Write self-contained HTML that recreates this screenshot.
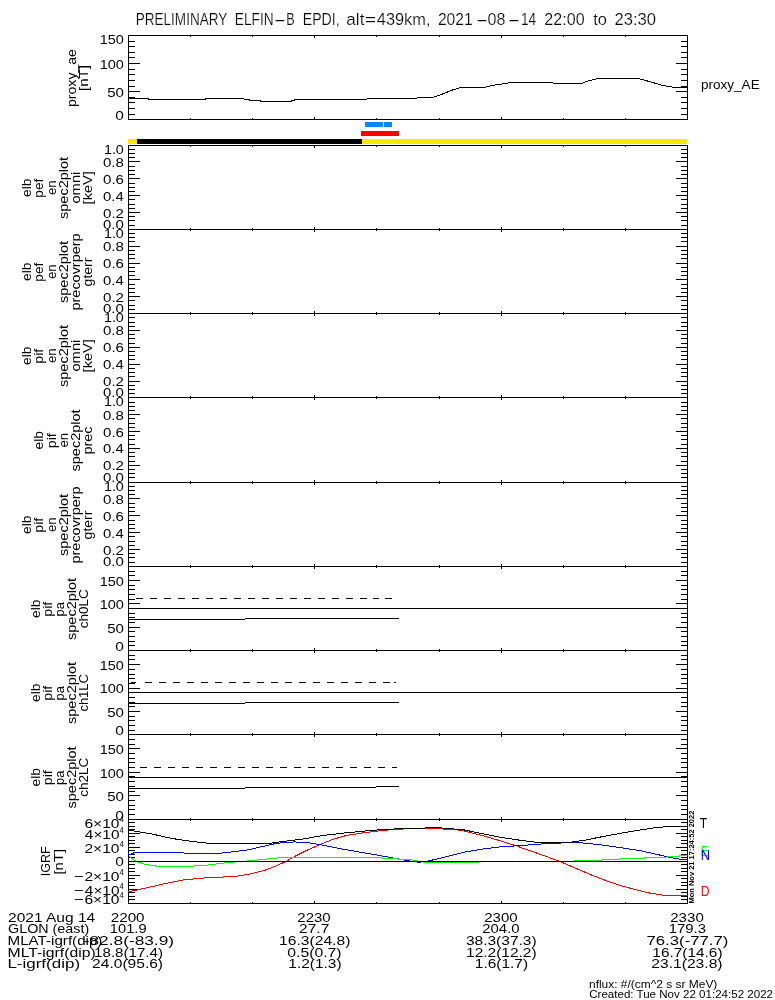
<!DOCTYPE html>
<html lang="en"><head><meta charset="utf-8"><title>ELFIN-B EPDI summary plot</title>
<style>
html,body{margin:0;padding:0;background:#fff;}
svg{display:block;}
text{white-space:pre;}
</style></head>
<body>
<svg width="775" height="1000" viewBox="0 0 775 1000">
<rect width="775" height="1000" fill="#fff"/>
<g id="axes" shape-rendering="crispEdges">
<rect x="128" y="35" width="560" height="1" fill="#000"/>
<rect x="128" y="119" width="560" height="1" fill="#000"/>
<rect x="128" y="35" width="1" height="85" fill="#000"/>
<rect x="687" y="35" width="1" height="85" fill="#000"/>
<rect x="128" y="119" width="12" height="1" fill="#000"/>
<rect x="676" y="119" width="12" height="1" fill="#000"/>
<rect x="128" y="114" width="7" height="1" fill="#000"/>
<rect x="681" y="114" width="7" height="1" fill="#000"/>
<rect x="128" y="108" width="7" height="1" fill="#000"/>
<rect x="681" y="108" width="7" height="1" fill="#000"/>
<rect x="128" y="102" width="7" height="1" fill="#000"/>
<rect x="681" y="102" width="7" height="1" fill="#000"/>
<rect x="128" y="97" width="7" height="1" fill="#000"/>
<rect x="681" y="97" width="7" height="1" fill="#000"/>
<rect x="128" y="91" width="12" height="1" fill="#000"/>
<rect x="676" y="91" width="12" height="1" fill="#000"/>
<rect x="128" y="86" width="7" height="1" fill="#000"/>
<rect x="681" y="86" width="7" height="1" fill="#000"/>
<rect x="128" y="80" width="7" height="1" fill="#000"/>
<rect x="681" y="80" width="7" height="1" fill="#000"/>
<rect x="128" y="74" width="7" height="1" fill="#000"/>
<rect x="681" y="74" width="7" height="1" fill="#000"/>
<rect x="128" y="69" width="7" height="1" fill="#000"/>
<rect x="681" y="69" width="7" height="1" fill="#000"/>
<rect x="128" y="63" width="12" height="1" fill="#000"/>
<rect x="676" y="63" width="12" height="1" fill="#000"/>
<rect x="128" y="57" width="7" height="1" fill="#000"/>
<rect x="681" y="57" width="7" height="1" fill="#000"/>
<rect x="128" y="52" width="7" height="1" fill="#000"/>
<rect x="681" y="52" width="7" height="1" fill="#000"/>
<rect x="128" y="46" width="7" height="1" fill="#000"/>
<rect x="681" y="46" width="7" height="1" fill="#000"/>
<rect x="128" y="41" width="7" height="1" fill="#000"/>
<rect x="681" y="41" width="7" height="1" fill="#000"/>
<rect x="128" y="35" width="12" height="1" fill="#000"/>
<rect x="676" y="35" width="12" height="1" fill="#000"/>
<rect x="190" y="35" width="1" height="2" fill="#000"/>
<rect x="252" y="35" width="1" height="2" fill="#000"/>
<rect x="314" y="35" width="1" height="3" fill="#000"/>
<rect x="376" y="35" width="1" height="2" fill="#000"/>
<rect x="439" y="35" width="1" height="2" fill="#000"/>
<rect x="501" y="35" width="1" height="3" fill="#000"/>
<rect x="563" y="35" width="1" height="2" fill="#000"/>
<rect x="625" y="35" width="1" height="2" fill="#000"/>
<rect x="190" y="118" width="1" height="2" fill="#000"/>
<rect x="252" y="118" width="1" height="2" fill="#000"/>
<rect x="314" y="117" width="1" height="3" fill="#000"/>
<rect x="376" y="118" width="1" height="2" fill="#000"/>
<rect x="439" y="118" width="1" height="2" fill="#000"/>
<rect x="501" y="117" width="1" height="3" fill="#000"/>
<rect x="563" y="118" width="1" height="2" fill="#000"/>
<rect x="625" y="118" width="1" height="2" fill="#000"/>
<rect x="128" y="145" width="560" height="1" fill="#000"/>
<rect x="128" y="229" width="560" height="1" fill="#000"/>
<rect x="128" y="145" width="1" height="85" fill="#000"/>
<rect x="687" y="145" width="1" height="85" fill="#000"/>
<rect x="128" y="229" width="12" height="1" fill="#000"/>
<rect x="676" y="229" width="12" height="1" fill="#000"/>
<rect x="128" y="225" width="7" height="1" fill="#000"/>
<rect x="681" y="225" width="7" height="1" fill="#000"/>
<rect x="128" y="220" width="7" height="1" fill="#000"/>
<rect x="681" y="220" width="7" height="1" fill="#000"/>
<rect x="128" y="216" width="7" height="1" fill="#000"/>
<rect x="681" y="216" width="7" height="1" fill="#000"/>
<rect x="128" y="212" width="12" height="1" fill="#000"/>
<rect x="676" y="212" width="12" height="1" fill="#000"/>
<rect x="128" y="208" width="7" height="1" fill="#000"/>
<rect x="681" y="208" width="7" height="1" fill="#000"/>
<rect x="128" y="204" width="7" height="1" fill="#000"/>
<rect x="681" y="204" width="7" height="1" fill="#000"/>
<rect x="128" y="199" width="7" height="1" fill="#000"/>
<rect x="681" y="199" width="7" height="1" fill="#000"/>
<rect x="128" y="195" width="12" height="1" fill="#000"/>
<rect x="676" y="195" width="12" height="1" fill="#000"/>
<rect x="128" y="191" width="7" height="1" fill="#000"/>
<rect x="681" y="191" width="7" height="1" fill="#000"/>
<rect x="128" y="187" width="7" height="1" fill="#000"/>
<rect x="681" y="187" width="7" height="1" fill="#000"/>
<rect x="128" y="183" width="7" height="1" fill="#000"/>
<rect x="681" y="183" width="7" height="1" fill="#000"/>
<rect x="128" y="178" width="12" height="1" fill="#000"/>
<rect x="676" y="178" width="12" height="1" fill="#000"/>
<rect x="128" y="174" width="7" height="1" fill="#000"/>
<rect x="681" y="174" width="7" height="1" fill="#000"/>
<rect x="128" y="170" width="7" height="1" fill="#000"/>
<rect x="681" y="170" width="7" height="1" fill="#000"/>
<rect x="128" y="166" width="7" height="1" fill="#000"/>
<rect x="681" y="166" width="7" height="1" fill="#000"/>
<rect x="128" y="161" width="12" height="1" fill="#000"/>
<rect x="676" y="161" width="12" height="1" fill="#000"/>
<rect x="128" y="157" width="7" height="1" fill="#000"/>
<rect x="681" y="157" width="7" height="1" fill="#000"/>
<rect x="128" y="153" width="7" height="1" fill="#000"/>
<rect x="681" y="153" width="7" height="1" fill="#000"/>
<rect x="128" y="149" width="7" height="1" fill="#000"/>
<rect x="681" y="149" width="7" height="1" fill="#000"/>
<rect x="128" y="145" width="12" height="1" fill="#000"/>
<rect x="676" y="145" width="12" height="1" fill="#000"/>
<rect x="190" y="145" width="1" height="2" fill="#000"/>
<rect x="252" y="145" width="1" height="2" fill="#000"/>
<rect x="314" y="145" width="1" height="3" fill="#000"/>
<rect x="376" y="145" width="1" height="2" fill="#000"/>
<rect x="439" y="145" width="1" height="2" fill="#000"/>
<rect x="501" y="145" width="1" height="3" fill="#000"/>
<rect x="563" y="145" width="1" height="2" fill="#000"/>
<rect x="625" y="145" width="1" height="2" fill="#000"/>
<rect x="190" y="228" width="1" height="3" fill="#000"/>
<rect x="252" y="228" width="1" height="3" fill="#000"/>
<rect x="314" y="227" width="1" height="5" fill="#000"/>
<rect x="376" y="228" width="1" height="3" fill="#000"/>
<rect x="439" y="228" width="1" height="3" fill="#000"/>
<rect x="501" y="227" width="1" height="5" fill="#000"/>
<rect x="563" y="228" width="1" height="3" fill="#000"/>
<rect x="625" y="228" width="1" height="3" fill="#000"/>
<rect x="128" y="313" width="560" height="1" fill="#000"/>
<rect x="128" y="229" width="1" height="85" fill="#000"/>
<rect x="687" y="229" width="1" height="85" fill="#000"/>
<rect x="128" y="313" width="12" height="1" fill="#000"/>
<rect x="676" y="313" width="12" height="1" fill="#000"/>
<rect x="128" y="309" width="7" height="1" fill="#000"/>
<rect x="681" y="309" width="7" height="1" fill="#000"/>
<rect x="128" y="305" width="7" height="1" fill="#000"/>
<rect x="681" y="305" width="7" height="1" fill="#000"/>
<rect x="128" y="300" width="7" height="1" fill="#000"/>
<rect x="681" y="300" width="7" height="1" fill="#000"/>
<rect x="128" y="296" width="12" height="1" fill="#000"/>
<rect x="676" y="296" width="12" height="1" fill="#000"/>
<rect x="128" y="292" width="7" height="1" fill="#000"/>
<rect x="681" y="292" width="7" height="1" fill="#000"/>
<rect x="128" y="288" width="7" height="1" fill="#000"/>
<rect x="681" y="288" width="7" height="1" fill="#000"/>
<rect x="128" y="284" width="7" height="1" fill="#000"/>
<rect x="681" y="284" width="7" height="1" fill="#000"/>
<rect x="128" y="279" width="12" height="1" fill="#000"/>
<rect x="676" y="279" width="12" height="1" fill="#000"/>
<rect x="128" y="275" width="7" height="1" fill="#000"/>
<rect x="681" y="275" width="7" height="1" fill="#000"/>
<rect x="128" y="271" width="7" height="1" fill="#000"/>
<rect x="681" y="271" width="7" height="1" fill="#000"/>
<rect x="128" y="267" width="7" height="1" fill="#000"/>
<rect x="681" y="267" width="7" height="1" fill="#000"/>
<rect x="128" y="263" width="12" height="1" fill="#000"/>
<rect x="676" y="263" width="12" height="1" fill="#000"/>
<rect x="128" y="258" width="7" height="1" fill="#000"/>
<rect x="681" y="258" width="7" height="1" fill="#000"/>
<rect x="128" y="254" width="7" height="1" fill="#000"/>
<rect x="681" y="254" width="7" height="1" fill="#000"/>
<rect x="128" y="250" width="7" height="1" fill="#000"/>
<rect x="681" y="250" width="7" height="1" fill="#000"/>
<rect x="128" y="246" width="12" height="1" fill="#000"/>
<rect x="676" y="246" width="12" height="1" fill="#000"/>
<rect x="128" y="241" width="7" height="1" fill="#000"/>
<rect x="681" y="241" width="7" height="1" fill="#000"/>
<rect x="128" y="237" width="7" height="1" fill="#000"/>
<rect x="681" y="237" width="7" height="1" fill="#000"/>
<rect x="128" y="233" width="7" height="1" fill="#000"/>
<rect x="681" y="233" width="7" height="1" fill="#000"/>
<rect x="128" y="229" width="12" height="1" fill="#000"/>
<rect x="676" y="229" width="12" height="1" fill="#000"/>
<rect x="190" y="312" width="1" height="3" fill="#000"/>
<rect x="252" y="312" width="1" height="3" fill="#000"/>
<rect x="314" y="311" width="1" height="5" fill="#000"/>
<rect x="376" y="312" width="1" height="3" fill="#000"/>
<rect x="439" y="312" width="1" height="3" fill="#000"/>
<rect x="501" y="311" width="1" height="5" fill="#000"/>
<rect x="563" y="312" width="1" height="3" fill="#000"/>
<rect x="625" y="312" width="1" height="3" fill="#000"/>
<rect x="128" y="397" width="560" height="1" fill="#000"/>
<rect x="128" y="313" width="1" height="85" fill="#000"/>
<rect x="687" y="313" width="1" height="85" fill="#000"/>
<rect x="128" y="397" width="12" height="1" fill="#000"/>
<rect x="676" y="397" width="12" height="1" fill="#000"/>
<rect x="128" y="393" width="7" height="1" fill="#000"/>
<rect x="681" y="393" width="7" height="1" fill="#000"/>
<rect x="128" y="389" width="7" height="1" fill="#000"/>
<rect x="681" y="389" width="7" height="1" fill="#000"/>
<rect x="128" y="385" width="7" height="1" fill="#000"/>
<rect x="681" y="385" width="7" height="1" fill="#000"/>
<rect x="128" y="381" width="12" height="1" fill="#000"/>
<rect x="676" y="381" width="12" height="1" fill="#000"/>
<rect x="128" y="376" width="7" height="1" fill="#000"/>
<rect x="681" y="376" width="7" height="1" fill="#000"/>
<rect x="128" y="372" width="7" height="1" fill="#000"/>
<rect x="681" y="372" width="7" height="1" fill="#000"/>
<rect x="128" y="368" width="7" height="1" fill="#000"/>
<rect x="681" y="368" width="7" height="1" fill="#000"/>
<rect x="128" y="364" width="12" height="1" fill="#000"/>
<rect x="676" y="364" width="12" height="1" fill="#000"/>
<rect x="128" y="359" width="7" height="1" fill="#000"/>
<rect x="681" y="359" width="7" height="1" fill="#000"/>
<rect x="128" y="355" width="7" height="1" fill="#000"/>
<rect x="681" y="355" width="7" height="1" fill="#000"/>
<rect x="128" y="351" width="7" height="1" fill="#000"/>
<rect x="681" y="351" width="7" height="1" fill="#000"/>
<rect x="128" y="347" width="12" height="1" fill="#000"/>
<rect x="676" y="347" width="12" height="1" fill="#000"/>
<rect x="128" y="343" width="7" height="1" fill="#000"/>
<rect x="681" y="343" width="7" height="1" fill="#000"/>
<rect x="128" y="338" width="7" height="1" fill="#000"/>
<rect x="681" y="338" width="7" height="1" fill="#000"/>
<rect x="128" y="334" width="7" height="1" fill="#000"/>
<rect x="681" y="334" width="7" height="1" fill="#000"/>
<rect x="128" y="330" width="12" height="1" fill="#000"/>
<rect x="676" y="330" width="12" height="1" fill="#000"/>
<rect x="128" y="326" width="7" height="1" fill="#000"/>
<rect x="681" y="326" width="7" height="1" fill="#000"/>
<rect x="128" y="322" width="7" height="1" fill="#000"/>
<rect x="681" y="322" width="7" height="1" fill="#000"/>
<rect x="128" y="317" width="7" height="1" fill="#000"/>
<rect x="681" y="317" width="7" height="1" fill="#000"/>
<rect x="128" y="313" width="12" height="1" fill="#000"/>
<rect x="676" y="313" width="12" height="1" fill="#000"/>
<rect x="190" y="396" width="1" height="3" fill="#000"/>
<rect x="252" y="396" width="1" height="3" fill="#000"/>
<rect x="314" y="395" width="1" height="5" fill="#000"/>
<rect x="376" y="396" width="1" height="3" fill="#000"/>
<rect x="439" y="396" width="1" height="3" fill="#000"/>
<rect x="501" y="395" width="1" height="5" fill="#000"/>
<rect x="563" y="396" width="1" height="3" fill="#000"/>
<rect x="625" y="396" width="1" height="3" fill="#000"/>
<rect x="128" y="482" width="560" height="1" fill="#000"/>
<rect x="128" y="397" width="1" height="86" fill="#000"/>
<rect x="687" y="397" width="1" height="86" fill="#000"/>
<rect x="128" y="482" width="12" height="1" fill="#000"/>
<rect x="676" y="482" width="12" height="1" fill="#000"/>
<rect x="128" y="477" width="7" height="1" fill="#000"/>
<rect x="681" y="477" width="7" height="1" fill="#000"/>
<rect x="128" y="473" width="7" height="1" fill="#000"/>
<rect x="681" y="473" width="7" height="1" fill="#000"/>
<rect x="128" y="469" width="7" height="1" fill="#000"/>
<rect x="681" y="469" width="7" height="1" fill="#000"/>
<rect x="128" y="465" width="12" height="1" fill="#000"/>
<rect x="676" y="465" width="12" height="1" fill="#000"/>
<rect x="128" y="461" width="7" height="1" fill="#000"/>
<rect x="681" y="461" width="7" height="1" fill="#000"/>
<rect x="128" y="456" width="7" height="1" fill="#000"/>
<rect x="681" y="456" width="7" height="1" fill="#000"/>
<rect x="128" y="452" width="7" height="1" fill="#000"/>
<rect x="681" y="452" width="7" height="1" fill="#000"/>
<rect x="128" y="448" width="12" height="1" fill="#000"/>
<rect x="676" y="448" width="12" height="1" fill="#000"/>
<rect x="128" y="444" width="7" height="1" fill="#000"/>
<rect x="681" y="444" width="7" height="1" fill="#000"/>
<rect x="128" y="439" width="7" height="1" fill="#000"/>
<rect x="681" y="439" width="7" height="1" fill="#000"/>
<rect x="128" y="435" width="7" height="1" fill="#000"/>
<rect x="681" y="435" width="7" height="1" fill="#000"/>
<rect x="128" y="431" width="12" height="1" fill="#000"/>
<rect x="676" y="431" width="12" height="1" fill="#000"/>
<rect x="128" y="427" width="7" height="1" fill="#000"/>
<rect x="681" y="427" width="7" height="1" fill="#000"/>
<rect x="128" y="423" width="7" height="1" fill="#000"/>
<rect x="681" y="423" width="7" height="1" fill="#000"/>
<rect x="128" y="418" width="7" height="1" fill="#000"/>
<rect x="681" y="418" width="7" height="1" fill="#000"/>
<rect x="128" y="414" width="12" height="1" fill="#000"/>
<rect x="676" y="414" width="12" height="1" fill="#000"/>
<rect x="128" y="410" width="7" height="1" fill="#000"/>
<rect x="681" y="410" width="7" height="1" fill="#000"/>
<rect x="128" y="406" width="7" height="1" fill="#000"/>
<rect x="681" y="406" width="7" height="1" fill="#000"/>
<rect x="128" y="402" width="7" height="1" fill="#000"/>
<rect x="681" y="402" width="7" height="1" fill="#000"/>
<rect x="128" y="397" width="12" height="1" fill="#000"/>
<rect x="676" y="397" width="12" height="1" fill="#000"/>
<rect x="190" y="481" width="1" height="3" fill="#000"/>
<rect x="252" y="481" width="1" height="3" fill="#000"/>
<rect x="314" y="480" width="1" height="5" fill="#000"/>
<rect x="376" y="481" width="1" height="3" fill="#000"/>
<rect x="439" y="481" width="1" height="3" fill="#000"/>
<rect x="501" y="480" width="1" height="5" fill="#000"/>
<rect x="563" y="481" width="1" height="3" fill="#000"/>
<rect x="625" y="481" width="1" height="3" fill="#000"/>
<rect x="128" y="566" width="560" height="1" fill="#000"/>
<rect x="128" y="482" width="1" height="85" fill="#000"/>
<rect x="687" y="482" width="1" height="85" fill="#000"/>
<rect x="128" y="566" width="12" height="1" fill="#000"/>
<rect x="676" y="566" width="12" height="1" fill="#000"/>
<rect x="128" y="562" width="7" height="1" fill="#000"/>
<rect x="681" y="562" width="7" height="1" fill="#000"/>
<rect x="128" y="557" width="7" height="1" fill="#000"/>
<rect x="681" y="557" width="7" height="1" fill="#000"/>
<rect x="128" y="553" width="7" height="1" fill="#000"/>
<rect x="681" y="553" width="7" height="1" fill="#000"/>
<rect x="128" y="549" width="12" height="1" fill="#000"/>
<rect x="676" y="549" width="12" height="1" fill="#000"/>
<rect x="128" y="545" width="7" height="1" fill="#000"/>
<rect x="681" y="545" width="7" height="1" fill="#000"/>
<rect x="128" y="541" width="7" height="1" fill="#000"/>
<rect x="681" y="541" width="7" height="1" fill="#000"/>
<rect x="128" y="536" width="7" height="1" fill="#000"/>
<rect x="681" y="536" width="7" height="1" fill="#000"/>
<rect x="128" y="532" width="12" height="1" fill="#000"/>
<rect x="676" y="532" width="12" height="1" fill="#000"/>
<rect x="128" y="528" width="7" height="1" fill="#000"/>
<rect x="681" y="528" width="7" height="1" fill="#000"/>
<rect x="128" y="524" width="7" height="1" fill="#000"/>
<rect x="681" y="524" width="7" height="1" fill="#000"/>
<rect x="128" y="520" width="7" height="1" fill="#000"/>
<rect x="681" y="520" width="7" height="1" fill="#000"/>
<rect x="128" y="515" width="12" height="1" fill="#000"/>
<rect x="676" y="515" width="12" height="1" fill="#000"/>
<rect x="128" y="511" width="7" height="1" fill="#000"/>
<rect x="681" y="511" width="7" height="1" fill="#000"/>
<rect x="128" y="507" width="7" height="1" fill="#000"/>
<rect x="681" y="507" width="7" height="1" fill="#000"/>
<rect x="128" y="503" width="7" height="1" fill="#000"/>
<rect x="681" y="503" width="7" height="1" fill="#000"/>
<rect x="128" y="498" width="12" height="1" fill="#000"/>
<rect x="676" y="498" width="12" height="1" fill="#000"/>
<rect x="128" y="494" width="7" height="1" fill="#000"/>
<rect x="681" y="494" width="7" height="1" fill="#000"/>
<rect x="128" y="490" width="7" height="1" fill="#000"/>
<rect x="681" y="490" width="7" height="1" fill="#000"/>
<rect x="128" y="486" width="7" height="1" fill="#000"/>
<rect x="681" y="486" width="7" height="1" fill="#000"/>
<rect x="128" y="482" width="12" height="1" fill="#000"/>
<rect x="676" y="482" width="12" height="1" fill="#000"/>
<rect x="190" y="565" width="1" height="3" fill="#000"/>
<rect x="252" y="565" width="1" height="3" fill="#000"/>
<rect x="314" y="564" width="1" height="5" fill="#000"/>
<rect x="376" y="565" width="1" height="3" fill="#000"/>
<rect x="439" y="565" width="1" height="3" fill="#000"/>
<rect x="501" y="564" width="1" height="5" fill="#000"/>
<rect x="563" y="565" width="1" height="3" fill="#000"/>
<rect x="625" y="565" width="1" height="3" fill="#000"/>
<rect x="128" y="650" width="560" height="1" fill="#000"/>
<rect x="128" y="566" width="1" height="85" fill="#000"/>
<rect x="687" y="566" width="1" height="85" fill="#000"/>
<rect x="128" y="650" width="12" height="1" fill="#000"/>
<rect x="676" y="650" width="12" height="1" fill="#000"/>
<rect x="128" y="645" width="7" height="1" fill="#000"/>
<rect x="681" y="645" width="7" height="1" fill="#000"/>
<rect x="128" y="641" width="7" height="1" fill="#000"/>
<rect x="681" y="641" width="7" height="1" fill="#000"/>
<rect x="128" y="636" width="7" height="1" fill="#000"/>
<rect x="681" y="636" width="7" height="1" fill="#000"/>
<rect x="128" y="631" width="7" height="1" fill="#000"/>
<rect x="681" y="631" width="7" height="1" fill="#000"/>
<rect x="128" y="627" width="12" height="1" fill="#000"/>
<rect x="676" y="627" width="12" height="1" fill="#000"/>
<rect x="128" y="622" width="7" height="1" fill="#000"/>
<rect x="681" y="622" width="7" height="1" fill="#000"/>
<rect x="128" y="617" width="7" height="1" fill="#000"/>
<rect x="681" y="617" width="7" height="1" fill="#000"/>
<rect x="128" y="613" width="7" height="1" fill="#000"/>
<rect x="681" y="613" width="7" height="1" fill="#000"/>
<rect x="128" y="608" width="7" height="1" fill="#000"/>
<rect x="681" y="608" width="7" height="1" fill="#000"/>
<rect x="128" y="603" width="12" height="1" fill="#000"/>
<rect x="676" y="603" width="12" height="1" fill="#000"/>
<rect x="128" y="599" width="7" height="1" fill="#000"/>
<rect x="681" y="599" width="7" height="1" fill="#000"/>
<rect x="128" y="594" width="7" height="1" fill="#000"/>
<rect x="681" y="594" width="7" height="1" fill="#000"/>
<rect x="128" y="589" width="7" height="1" fill="#000"/>
<rect x="681" y="589" width="7" height="1" fill="#000"/>
<rect x="128" y="585" width="7" height="1" fill="#000"/>
<rect x="681" y="585" width="7" height="1" fill="#000"/>
<rect x="128" y="580" width="12" height="1" fill="#000"/>
<rect x="676" y="580" width="12" height="1" fill="#000"/>
<rect x="128" y="575" width="7" height="1" fill="#000"/>
<rect x="681" y="575" width="7" height="1" fill="#000"/>
<rect x="128" y="571" width="7" height="1" fill="#000"/>
<rect x="681" y="571" width="7" height="1" fill="#000"/>
<rect x="128" y="566" width="7" height="1" fill="#000"/>
<rect x="681" y="566" width="7" height="1" fill="#000"/>
<rect x="190" y="649" width="1" height="3" fill="#000"/>
<rect x="252" y="649" width="1" height="3" fill="#000"/>
<rect x="314" y="648" width="1" height="5" fill="#000"/>
<rect x="376" y="649" width="1" height="3" fill="#000"/>
<rect x="439" y="649" width="1" height="3" fill="#000"/>
<rect x="501" y="648" width="1" height="5" fill="#000"/>
<rect x="563" y="649" width="1" height="3" fill="#000"/>
<rect x="625" y="649" width="1" height="3" fill="#000"/>
<rect x="128" y="734" width="560" height="1" fill="#000"/>
<rect x="128" y="650" width="1" height="85" fill="#000"/>
<rect x="687" y="650" width="1" height="85" fill="#000"/>
<rect x="128" y="734" width="12" height="1" fill="#000"/>
<rect x="676" y="734" width="12" height="1" fill="#000"/>
<rect x="128" y="730" width="7" height="1" fill="#000"/>
<rect x="681" y="730" width="7" height="1" fill="#000"/>
<rect x="128" y="725" width="7" height="1" fill="#000"/>
<rect x="681" y="725" width="7" height="1" fill="#000"/>
<rect x="128" y="720" width="7" height="1" fill="#000"/>
<rect x="681" y="720" width="7" height="1" fill="#000"/>
<rect x="128" y="716" width="7" height="1" fill="#000"/>
<rect x="681" y="716" width="7" height="1" fill="#000"/>
<rect x="128" y="711" width="12" height="1" fill="#000"/>
<rect x="676" y="711" width="12" height="1" fill="#000"/>
<rect x="128" y="706" width="7" height="1" fill="#000"/>
<rect x="681" y="706" width="7" height="1" fill="#000"/>
<rect x="128" y="702" width="7" height="1" fill="#000"/>
<rect x="681" y="702" width="7" height="1" fill="#000"/>
<rect x="128" y="697" width="7" height="1" fill="#000"/>
<rect x="681" y="697" width="7" height="1" fill="#000"/>
<rect x="128" y="692" width="7" height="1" fill="#000"/>
<rect x="681" y="692" width="7" height="1" fill="#000"/>
<rect x="128" y="688" width="12" height="1" fill="#000"/>
<rect x="676" y="688" width="12" height="1" fill="#000"/>
<rect x="128" y="683" width="7" height="1" fill="#000"/>
<rect x="681" y="683" width="7" height="1" fill="#000"/>
<rect x="128" y="678" width="7" height="1" fill="#000"/>
<rect x="681" y="678" width="7" height="1" fill="#000"/>
<rect x="128" y="674" width="7" height="1" fill="#000"/>
<rect x="681" y="674" width="7" height="1" fill="#000"/>
<rect x="128" y="669" width="7" height="1" fill="#000"/>
<rect x="681" y="669" width="7" height="1" fill="#000"/>
<rect x="128" y="664" width="12" height="1" fill="#000"/>
<rect x="676" y="664" width="12" height="1" fill="#000"/>
<rect x="128" y="659" width="7" height="1" fill="#000"/>
<rect x="681" y="659" width="7" height="1" fill="#000"/>
<rect x="128" y="655" width="7" height="1" fill="#000"/>
<rect x="681" y="655" width="7" height="1" fill="#000"/>
<rect x="128" y="650" width="7" height="1" fill="#000"/>
<rect x="681" y="650" width="7" height="1" fill="#000"/>
<rect x="190" y="733" width="1" height="3" fill="#000"/>
<rect x="252" y="733" width="1" height="3" fill="#000"/>
<rect x="314" y="732" width="1" height="5" fill="#000"/>
<rect x="376" y="733" width="1" height="3" fill="#000"/>
<rect x="439" y="733" width="1" height="3" fill="#000"/>
<rect x="501" y="732" width="1" height="5" fill="#000"/>
<rect x="563" y="733" width="1" height="3" fill="#000"/>
<rect x="625" y="733" width="1" height="3" fill="#000"/>
<rect x="128" y="819" width="560" height="1" fill="#000"/>
<rect x="128" y="734" width="1" height="86" fill="#000"/>
<rect x="687" y="734" width="1" height="86" fill="#000"/>
<rect x="128" y="819" width="12" height="1" fill="#000"/>
<rect x="676" y="819" width="12" height="1" fill="#000"/>
<rect x="128" y="814" width="7" height="1" fill="#000"/>
<rect x="681" y="814" width="7" height="1" fill="#000"/>
<rect x="128" y="809" width="7" height="1" fill="#000"/>
<rect x="681" y="809" width="7" height="1" fill="#000"/>
<rect x="128" y="805" width="7" height="1" fill="#000"/>
<rect x="681" y="805" width="7" height="1" fill="#000"/>
<rect x="128" y="800" width="7" height="1" fill="#000"/>
<rect x="681" y="800" width="7" height="1" fill="#000"/>
<rect x="128" y="795" width="12" height="1" fill="#000"/>
<rect x="676" y="795" width="12" height="1" fill="#000"/>
<rect x="128" y="791" width="7" height="1" fill="#000"/>
<rect x="681" y="791" width="7" height="1" fill="#000"/>
<rect x="128" y="786" width="7" height="1" fill="#000"/>
<rect x="681" y="786" width="7" height="1" fill="#000"/>
<rect x="128" y="781" width="7" height="1" fill="#000"/>
<rect x="681" y="781" width="7" height="1" fill="#000"/>
<rect x="128" y="776" width="7" height="1" fill="#000"/>
<rect x="681" y="776" width="7" height="1" fill="#000"/>
<rect x="128" y="772" width="12" height="1" fill="#000"/>
<rect x="676" y="772" width="12" height="1" fill="#000"/>
<rect x="128" y="767" width="7" height="1" fill="#000"/>
<rect x="681" y="767" width="7" height="1" fill="#000"/>
<rect x="128" y="762" width="7" height="1" fill="#000"/>
<rect x="681" y="762" width="7" height="1" fill="#000"/>
<rect x="128" y="758" width="7" height="1" fill="#000"/>
<rect x="681" y="758" width="7" height="1" fill="#000"/>
<rect x="128" y="753" width="7" height="1" fill="#000"/>
<rect x="681" y="753" width="7" height="1" fill="#000"/>
<rect x="128" y="748" width="12" height="1" fill="#000"/>
<rect x="676" y="748" width="12" height="1" fill="#000"/>
<rect x="128" y="744" width="7" height="1" fill="#000"/>
<rect x="681" y="744" width="7" height="1" fill="#000"/>
<rect x="128" y="739" width="7" height="1" fill="#000"/>
<rect x="681" y="739" width="7" height="1" fill="#000"/>
<rect x="128" y="734" width="7" height="1" fill="#000"/>
<rect x="681" y="734" width="7" height="1" fill="#000"/>
<rect x="190" y="818" width="1" height="3" fill="#000"/>
<rect x="252" y="818" width="1" height="3" fill="#000"/>
<rect x="314" y="817" width="1" height="5" fill="#000"/>
<rect x="376" y="818" width="1" height="3" fill="#000"/>
<rect x="439" y="818" width="1" height="3" fill="#000"/>
<rect x="501" y="817" width="1" height="5" fill="#000"/>
<rect x="563" y="818" width="1" height="3" fill="#000"/>
<rect x="625" y="818" width="1" height="3" fill="#000"/>
<rect x="128" y="903" width="560" height="1" fill="#000"/>
<rect x="128" y="819" width="1" height="85" fill="#000"/>
<rect x="687" y="819" width="1" height="85" fill="#000"/>
<rect x="128" y="903" width="12" height="1" fill="#000"/>
<rect x="676" y="903" width="12" height="1" fill="#000"/>
<rect x="128" y="899" width="7" height="1" fill="#000"/>
<rect x="681" y="899" width="7" height="1" fill="#000"/>
<rect x="128" y="896" width="7" height="1" fill="#000"/>
<rect x="681" y="896" width="7" height="1" fill="#000"/>
<rect x="128" y="892" width="7" height="1" fill="#000"/>
<rect x="681" y="892" width="7" height="1" fill="#000"/>
<rect x="128" y="889" width="12" height="1" fill="#000"/>
<rect x="676" y="889" width="12" height="1" fill="#000"/>
<rect x="128" y="885" width="7" height="1" fill="#000"/>
<rect x="681" y="885" width="7" height="1" fill="#000"/>
<rect x="128" y="882" width="7" height="1" fill="#000"/>
<rect x="681" y="882" width="7" height="1" fill="#000"/>
<rect x="128" y="878" width="7" height="1" fill="#000"/>
<rect x="681" y="878" width="7" height="1" fill="#000"/>
<rect x="128" y="875" width="12" height="1" fill="#000"/>
<rect x="676" y="875" width="12" height="1" fill="#000"/>
<rect x="128" y="871" width="7" height="1" fill="#000"/>
<rect x="681" y="871" width="7" height="1" fill="#000"/>
<rect x="128" y="868" width="7" height="1" fill="#000"/>
<rect x="681" y="868" width="7" height="1" fill="#000"/>
<rect x="128" y="864" width="7" height="1" fill="#000"/>
<rect x="681" y="864" width="7" height="1" fill="#000"/>
<rect x="128" y="861" width="12" height="1" fill="#000"/>
<rect x="676" y="861" width="12" height="1" fill="#000"/>
<rect x="128" y="857" width="7" height="1" fill="#000"/>
<rect x="681" y="857" width="7" height="1" fill="#000"/>
<rect x="128" y="854" width="7" height="1" fill="#000"/>
<rect x="681" y="854" width="7" height="1" fill="#000"/>
<rect x="128" y="850" width="7" height="1" fill="#000"/>
<rect x="681" y="850" width="7" height="1" fill="#000"/>
<rect x="128" y="847" width="12" height="1" fill="#000"/>
<rect x="676" y="847" width="12" height="1" fill="#000"/>
<rect x="128" y="843" width="7" height="1" fill="#000"/>
<rect x="681" y="843" width="7" height="1" fill="#000"/>
<rect x="128" y="840" width="7" height="1" fill="#000"/>
<rect x="681" y="840" width="7" height="1" fill="#000"/>
<rect x="128" y="836" width="7" height="1" fill="#000"/>
<rect x="681" y="836" width="7" height="1" fill="#000"/>
<rect x="128" y="833" width="12" height="1" fill="#000"/>
<rect x="676" y="833" width="12" height="1" fill="#000"/>
<rect x="128" y="829" width="7" height="1" fill="#000"/>
<rect x="681" y="829" width="7" height="1" fill="#000"/>
<rect x="128" y="826" width="7" height="1" fill="#000"/>
<rect x="681" y="826" width="7" height="1" fill="#000"/>
<rect x="128" y="822" width="7" height="1" fill="#000"/>
<rect x="681" y="822" width="7" height="1" fill="#000"/>
<rect x="128" y="819" width="12" height="1" fill="#000"/>
<rect x="676" y="819" width="12" height="1" fill="#000"/>
<rect x="190" y="902" width="1" height="2" fill="#000"/>
<rect x="252" y="902" width="1" height="2" fill="#000"/>
<rect x="314" y="901" width="1" height="3" fill="#000"/>
<rect x="376" y="902" width="1" height="2" fill="#000"/>
<rect x="439" y="902" width="1" height="2" fill="#000"/>
<rect x="501" y="901" width="1" height="3" fill="#000"/>
<rect x="563" y="902" width="1" height="2" fill="#000"/>
<rect x="625" y="902" width="1" height="2" fill="#000"/>
<rect x="128" y="139" width="9" height="5" fill="#FFE600"/>
<rect x="137" y="139" width="225" height="5" fill="#000"/>
<rect x="362" y="139" width="325" height="5" fill="#FFE600"/>
<rect x="361" y="131" width="38" height="5" fill="#FF0000"/>
<rect x="365" y="122" width="18" height="5" fill="#0A84FF"/>
<rect x="384" y="122" width="8" height="5" fill="#0A84FF"/>
<rect x="128" y="608" width="560" height="1" fill="#000"/>
<rect x="128" y="619" width="117" height="1" fill="#000"/>
<rect x="245" y="618" width="154" height="1" fill="#000"/>
<rect x="136" y="598" width="7" height="1" fill="#000"/>
<rect x="150" y="598" width="7" height="1" fill="#000"/>
<rect x="164" y="598" width="7" height="1" fill="#000"/>
<rect x="178" y="598" width="7" height="1" fill="#000"/>
<rect x="192" y="598" width="7" height="1" fill="#000"/>
<rect x="206" y="598" width="7" height="1" fill="#000"/>
<rect x="220" y="598" width="7" height="1" fill="#000"/>
<rect x="234" y="598" width="7" height="1" fill="#000"/>
<rect x="248" y="598" width="7" height="1" fill="#000"/>
<rect x="262" y="598" width="7" height="1" fill="#000"/>
<rect x="276" y="598" width="7" height="1" fill="#000"/>
<rect x="290" y="598" width="7" height="1" fill="#000"/>
<rect x="304" y="598" width="7" height="1" fill="#000"/>
<rect x="318" y="598" width="7" height="1" fill="#000"/>
<rect x="332" y="598" width="7" height="1" fill="#000"/>
<rect x="346" y="598" width="7" height="1" fill="#000"/>
<rect x="360" y="598" width="7" height="1" fill="#000"/>
<rect x="373" y="598" width="6" height="1" fill="#000"/>
<rect x="385" y="598" width="7" height="1" fill="#000"/>
<rect x="128" y="692" width="560" height="1" fill="#000"/>
<rect x="128" y="703" width="117" height="1" fill="#000"/>
<rect x="245" y="702" width="154" height="1" fill="#000"/>
<rect x="131" y="682" width="5" height="1" fill="#000"/>
<rect x="145" y="682" width="7" height="1" fill="#000"/>
<rect x="159" y="682" width="7" height="1" fill="#000"/>
<rect x="173" y="682" width="7" height="1" fill="#000"/>
<rect x="187" y="682" width="7" height="1" fill="#000"/>
<rect x="201" y="682" width="7" height="1" fill="#000"/>
<rect x="215" y="682" width="7" height="1" fill="#000"/>
<rect x="229" y="682" width="7" height="1" fill="#000"/>
<rect x="243" y="682" width="7" height="1" fill="#000"/>
<rect x="257" y="682" width="7" height="1" fill="#000"/>
<rect x="271" y="682" width="7" height="1" fill="#000"/>
<rect x="285" y="682" width="7" height="1" fill="#000"/>
<rect x="299" y="682" width="7" height="1" fill="#000"/>
<rect x="313" y="682" width="7" height="1" fill="#000"/>
<rect x="327" y="682" width="7" height="1" fill="#000"/>
<rect x="341" y="682" width="7" height="1" fill="#000"/>
<rect x="355" y="682" width="7" height="1" fill="#000"/>
<rect x="369" y="682" width="7" height="1" fill="#000"/>
<rect x="383" y="682" width="7" height="1" fill="#000"/>
<rect x="394" y="682" width="2" height="1" fill="#000"/>
<rect x="128" y="777" width="560" height="1" fill="#000"/>
<rect x="128" y="788" width="117" height="1" fill="#000"/>
<rect x="245" y="787" width="131" height="1" fill="#000"/>
<rect x="376" y="786" width="23" height="1" fill="#000"/>
<rect x="140" y="767" width="7" height="1" fill="#000"/>
<rect x="154" y="767" width="7" height="1" fill="#000"/>
<rect x="168" y="767" width="7" height="1" fill="#000"/>
<rect x="182" y="767" width="7" height="1" fill="#000"/>
<rect x="196" y="767" width="7" height="1" fill="#000"/>
<rect x="210" y="767" width="7" height="1" fill="#000"/>
<rect x="224" y="767" width="7" height="1" fill="#000"/>
<rect x="238" y="767" width="7" height="1" fill="#000"/>
<rect x="252" y="767" width="7" height="1" fill="#000"/>
<rect x="266" y="767" width="7" height="1" fill="#000"/>
<rect x="280" y="767" width="7" height="1" fill="#000"/>
<rect x="294" y="767" width="7" height="1" fill="#000"/>
<rect x="308" y="767" width="7" height="1" fill="#000"/>
<rect x="322" y="767" width="7" height="1" fill="#000"/>
<rect x="336" y="767" width="7" height="1" fill="#000"/>
<rect x="350" y="767" width="7" height="1" fill="#000"/>
<rect x="364" y="767" width="7" height="1" fill="#000"/>
<rect x="378" y="767" width="7" height="1" fill="#000"/>
<rect x="392" y="767" width="5" height="1" fill="#000"/>
</g>
<polyline points="128.5,98.5 148.0,98.5 149.0,99.5 205.0,99.5 206.0,98.5 243.0,98.5 245.0,99.5 249.0,99.5 250.0,100.5 260.0,100.5 261.0,101.5 291.0,101.5 292.0,100.5 294.0,100.5 295.0,99.5 366.0,99.5 367.5,98.5 416.5,98.5 418.0,97.5 433.4,97.3 443.7,93.6 451.5,90.3 460.5,87.7 483.7,87.5 492.7,85.4 503.1,83.8 510.8,82.5 551.8,82.5 554.4,83.5 581.5,83.5 587.9,80.9 598.2,78.5 638.2,78.5 649.8,81.6 662.7,85.5 673.1,87.2 687.3,87.2" fill="none" stroke="#000" stroke-width="1" shape-rendering="crispEdges"/>
<polyline points="128.5,891.7 144.4,888.4 163.7,883.9 183.0,880.0 202.4,878.1 221.8,877.1 237.3,876.2 250.8,873.8 264.4,870.4 274.7,866.5 286.3,861.3 296.0,855.8 307.6,850.0 321.1,844.2 332.7,839.4 346.3,835.5 361.8,833.0 377.3,831.1 390.8,829.7 404.4,828.9 424.4,828.6 451.5,829.2 463.0,830.7 482.4,835.5 501.8,841.3 517.3,846.2 530.8,851.0 544.4,855.8 560.5,861.7 574.0,867.5 589.5,874.2 603.0,879.5 618.5,884.9 634.0,889.3 649.5,893.0 665.0,895.5 687.3,895.5" fill="none" stroke="#FF0000" stroke-width="1" shape-rendering="crispEdges"/>
<polyline points="128.5,855.0 133.7,852.9 183.0,852.9 187.0,853.5 218.0,853.5 231.5,852.0 248.9,849.7 268.2,845.2 276.6,843.3 294.0,841.9 309.5,842.9 323.0,845.2 342.4,849.1 361.8,852.4 381.1,855.8 400.5,859.3 410.2,861.1 418.5,862.2 424.4,861.7 434.0,859.7 449.5,855.8 467.0,851.6 482.4,849.1 501.8,846.7 517.3,845.8 530.8,844.8 544.4,843.7 556.6,843.3 570.2,842.3 579.8,842.7 595.3,844.2 610.8,846.2 626.3,848.5 641.8,851.0 657.3,854.5 668.9,857.2 680.5,859.3 687.3,859.7" fill="none" stroke="#0000FF" stroke-width="1" shape-rendering="crispEdges"/>
<polyline points="128.5,855.8 134.7,860.7 144.4,864.0 158.9,866.5 186.9,866.5 206.3,865.2 227.6,862.6 245.0,861.2 260.5,859.7 278.5,857.8 381.1,857.8 387.0,858.7 408.2,859.3 418.5,861.3 424.4,862.2 468.9,862.2 500.0,861.6 568.2,861.1 595.3,860.7 597.3,860.1 618.5,859.7 620.5,858.9 643.7,858.6 645.6,857.4 666.9,857.0 678.5,856.4 681.5,855.3 687.3,855.3" fill="none" stroke="#00FF00" stroke-width="1" shape-rendering="crispEdges"/>
<polyline points="128.5,830.2 150.2,833.6 171.5,838.4 190.8,841.3 210.2,843.5 268.2,843.5 275.0,842.6 284.4,841.3 303.7,838.9 323.0,835.5 342.4,833.2 361.8,831.3 381.1,829.7 400.5,828.7 424.4,828.4 426.3,827.6 441.8,828.0 463.0,829.7 482.4,833.6 501.8,837.5 521.1,840.4 536.6,842.3 555.0,842.9 570.2,842.3 583.7,840.4 603.0,836.5 622.4,833.0 641.8,829.7 653.4,828.0 665.0,826.8 687.3,826.4" fill="none" stroke="#000" stroke-width="1" shape-rendering="crispEdges"/>
<rect x="128" y="861" width="560" height="1" fill="#000" shape-rendering="crispEdges"/>
<g font-family='"Liberation Sans", sans-serif' fill="#000" stroke="#fff" stroke-width="0" opacity="0.999">
<text stroke-width="0.2"><tspan font-size="16" x="135.69" y="25.00" textLength="91.61" lengthAdjust="spacingAndGlyphs">PRELIMINARY</tspan> <tspan font-size="16" x="234.78" y="25.00" textLength="38.84" lengthAdjust="spacingAndGlyphs">ELFIN</tspan><tspan font-size="16" x="273.61" y="25.00" textLength="12.69" lengthAdjust="spacingAndGlyphs">-</tspan><tspan font-size="16" x="286.37" y="25.00" textLength="8.40" lengthAdjust="spacingAndGlyphs">B</tspan> <tspan font-size="16" x="302.74" y="25.00" textLength="36.82" lengthAdjust="spacingAndGlyphs">EPDI,</tspan> <tspan font-size="16" x="346.27" y="25.00" textLength="18.16" lengthAdjust="spacingAndGlyphs">alt</tspan><tspan font-size="16" x="365.08" y="25.00" textLength="11.06" lengthAdjust="spacingAndGlyphs">=</tspan><tspan font-size="16" x="376.82" y="25.00" textLength="53.65" lengthAdjust="spacingAndGlyphs">439km,</tspan> <tspan font-size="16" x="437.91" y="25.00" textLength="34.85" lengthAdjust="spacingAndGlyphs">2021</tspan><tspan font-size="16" x="475.83" y="25.00" textLength="12.55" lengthAdjust="spacingAndGlyphs">-</tspan><tspan font-size="16" x="487.57" y="25.00" textLength="17.82" lengthAdjust="spacingAndGlyphs">08</tspan><tspan font-size="16" x="507.49" y="25.00" textLength="12.82" lengthAdjust="spacingAndGlyphs">-</tspan><tspan font-size="16" x="520.96" y="25.00" textLength="15.14" lengthAdjust="spacingAndGlyphs">14</tspan> <tspan font-size="16" x="544.39" y="25.00" textLength="40.24" lengthAdjust="spacingAndGlyphs">22:00</tspan> <tspan font-size="16" x="593.15" y="25.00" textLength="13.74" lengthAdjust="spacingAndGlyphs">to</tspan> <tspan font-size="16" x="614.47" y="25.00" textLength="41.48" lengthAdjust="spacingAndGlyphs">23:30</tspan></text>
<text font-size="13" x="99.70" y="44.10" textLength="24.17" lengthAdjust="spacingAndGlyphs">150</text>
<text font-size="13" x="99.70" y="68.60" textLength="24.17" lengthAdjust="spacingAndGlyphs">100</text>
<text font-size="13" x="107.20" y="96.60" textLength="16.69" lengthAdjust="spacingAndGlyphs">50</text>
<text font-size="13" x="115.30" y="119.90" textLength="8.61" lengthAdjust="spacingAndGlyphs">0</text>
<text font-size="13" x="103.91" y="154.10" textLength="19.95" lengthAdjust="spacingAndGlyphs">1.0</text>
<text font-size="13" x="103.01" y="166.95" textLength="20.94" lengthAdjust="spacingAndGlyphs">0.8</text>
<text font-size="13" x="103.01" y="183.80" textLength="20.95" lengthAdjust="spacingAndGlyphs">0.6</text>
<text font-size="13" x="103.02" y="200.65" textLength="20.72" lengthAdjust="spacingAndGlyphs">0.4</text>
<text font-size="13" x="103.01" y="217.50" textLength="21.05" lengthAdjust="spacingAndGlyphs">0.2</text>
<text font-size="13" x="103.01" y="229.40" textLength="20.87" lengthAdjust="spacingAndGlyphs">0.0</text>
<text font-size="13" x="103.91" y="238.10" textLength="19.95" lengthAdjust="spacingAndGlyphs">1.0</text>
<text font-size="13" x="103.01" y="251.20" textLength="20.94" lengthAdjust="spacingAndGlyphs">0.8</text>
<text font-size="13" x="103.01" y="268.05" textLength="20.95" lengthAdjust="spacingAndGlyphs">0.6</text>
<text font-size="13" x="103.02" y="284.90" textLength="20.72" lengthAdjust="spacingAndGlyphs">0.4</text>
<text font-size="13" x="103.01" y="301.75" textLength="21.05" lengthAdjust="spacingAndGlyphs">0.2</text>
<text font-size="13" x="103.01" y="313.40" textLength="20.87" lengthAdjust="spacingAndGlyphs">0.0</text>
<text font-size="13" x="103.91" y="322.10" textLength="19.95" lengthAdjust="spacingAndGlyphs">1.0</text>
<text font-size="13" x="103.01" y="335.45" textLength="20.94" lengthAdjust="spacingAndGlyphs">0.8</text>
<text font-size="13" x="103.01" y="352.30" textLength="20.95" lengthAdjust="spacingAndGlyphs">0.6</text>
<text font-size="13" x="103.02" y="369.15" textLength="20.72" lengthAdjust="spacingAndGlyphs">0.4</text>
<text font-size="13" x="103.01" y="386.00" textLength="21.05" lengthAdjust="spacingAndGlyphs">0.2</text>
<text font-size="13" x="103.01" y="397.40" textLength="20.87" lengthAdjust="spacingAndGlyphs">0.0</text>
<text font-size="13" x="103.91" y="406.10" textLength="19.95" lengthAdjust="spacingAndGlyphs">1.0</text>
<text font-size="13" x="103.01" y="419.70" textLength="20.94" lengthAdjust="spacingAndGlyphs">0.8</text>
<text font-size="13" x="103.01" y="436.55" textLength="20.95" lengthAdjust="spacingAndGlyphs">0.6</text>
<text font-size="13" x="103.02" y="453.40" textLength="20.72" lengthAdjust="spacingAndGlyphs">0.4</text>
<text font-size="13" x="103.01" y="470.25" textLength="21.05" lengthAdjust="spacingAndGlyphs">0.2</text>
<text font-size="13" x="103.01" y="482.40" textLength="20.87" lengthAdjust="spacingAndGlyphs">0.0</text>
<text font-size="13" x="103.91" y="491.10" textLength="19.95" lengthAdjust="spacingAndGlyphs">1.0</text>
<text font-size="13" x="103.01" y="503.95" textLength="20.94" lengthAdjust="spacingAndGlyphs">0.8</text>
<text font-size="13" x="103.01" y="520.80" textLength="20.95" lengthAdjust="spacingAndGlyphs">0.6</text>
<text font-size="13" x="103.02" y="537.65" textLength="20.72" lengthAdjust="spacingAndGlyphs">0.4</text>
<text font-size="13" x="103.01" y="554.50" textLength="21.05" lengthAdjust="spacingAndGlyphs">0.2</text>
<text font-size="13" x="103.01" y="566.40" textLength="20.87" lengthAdjust="spacingAndGlyphs">0.0</text>
<text font-size="13" x="99.70" y="585.69" textLength="24.17" lengthAdjust="spacingAndGlyphs">150</text>
<text font-size="13" x="99.70" y="609.09" textLength="24.17" lengthAdjust="spacingAndGlyphs">100</text>
<text font-size="13" x="107.20" y="632.50" textLength="16.69" lengthAdjust="spacingAndGlyphs">50</text>
<text font-size="13" x="115.30" y="650.90" textLength="8.61" lengthAdjust="spacingAndGlyphs">0</text>
<text font-size="13" x="99.70" y="669.94" textLength="24.17" lengthAdjust="spacingAndGlyphs">150</text>
<text font-size="13" x="99.70" y="693.34" textLength="24.17" lengthAdjust="spacingAndGlyphs">100</text>
<text font-size="13" x="107.20" y="716.75" textLength="16.69" lengthAdjust="spacingAndGlyphs">50</text>
<text font-size="13" x="115.30" y="734.90" textLength="8.61" lengthAdjust="spacingAndGlyphs">0</text>
<text font-size="13" x="99.70" y="754.19" textLength="24.17" lengthAdjust="spacingAndGlyphs">150</text>
<text font-size="13" x="99.70" y="777.59" textLength="24.17" lengthAdjust="spacingAndGlyphs">100</text>
<text font-size="13" x="107.20" y="801.00" textLength="16.69" lengthAdjust="spacingAndGlyphs">50</text>
<text font-size="13" x="115.30" y="819.90" textLength="8.61" lengthAdjust="spacingAndGlyphs">0</text>
<text><tspan font-size="13" x="84.41" y="827.80" textLength="35.10" lengthAdjust="spacingAndGlyphs">6×10</tspan><tspan font-size="8.7" x="119.52" y="822.20" textLength="4.30" lengthAdjust="spacingAndGlyphs">4</tspan></text>
<text><tspan font-size="13" x="84.85" y="838.90" textLength="34.65" lengthAdjust="spacingAndGlyphs">4×10</tspan><tspan font-size="8.7" x="119.52" y="833.30" textLength="4.30" lengthAdjust="spacingAndGlyphs">4</tspan></text>
<text><tspan font-size="13" x="84.42" y="852.90" textLength="35.09" lengthAdjust="spacingAndGlyphs">2×10</tspan><tspan font-size="8.7" x="119.52" y="847.30" textLength="4.30" lengthAdjust="spacingAndGlyphs">4</tspan></text>
<text font-size="13" x="115.30" y="866.40" textLength="8.61" lengthAdjust="spacingAndGlyphs">0</text>
<text><tspan font-size="13" x="74.08" y="881.00" textLength="9.74" lengthAdjust="spacingAndGlyphs">−</tspan><tspan font-size="13" x="84.42" y="881.00" textLength="35.09" lengthAdjust="spacingAndGlyphs">2×10</tspan><tspan font-size="8.7" x="119.52" y="875.40" textLength="4.30" lengthAdjust="spacingAndGlyphs">4</tspan></text>
<text><tspan font-size="13" x="74.08" y="894.60" textLength="9.74" lengthAdjust="spacingAndGlyphs">−</tspan><tspan font-size="13" x="84.85" y="894.60" textLength="34.65" lengthAdjust="spacingAndGlyphs">4×10</tspan><tspan font-size="8.7" x="119.52" y="889.00" textLength="4.30" lengthAdjust="spacingAndGlyphs">4</tspan></text>
<text><tspan font-size="13" x="74.08" y="903.80" textLength="9.74" lengthAdjust="spacingAndGlyphs">−</tspan><tspan font-size="13" x="84.41" y="903.80" textLength="35.10" lengthAdjust="spacingAndGlyphs">6×10</tspan><tspan font-size="8.7" x="119.52" y="898.20" textLength="4.30" lengthAdjust="spacingAndGlyphs">4</tspan></text>
<text font-size="13" transform="translate(76.00 77.90) rotate(-90)" x="-29.11" y="0" textLength="57.93" lengthAdjust="spacingAndGlyphs" stroke-width="0">proxy_ae</text>
<text font-size="13" transform="translate(88.00 78.00) rotate(-90)" x="-13.08" y="0" textLength="26.17" lengthAdjust="spacingAndGlyphs" stroke-width="0">[nT]</text>
<text font-size="13" transform="translate(30.90 187.80) rotate(-90)" x="-9.24" y="0" textLength="18.47" lengthAdjust="spacingAndGlyphs" stroke-width="0">elb</text>
<text font-size="13" transform="translate(43.20 187.80) rotate(-90)" x="-9.87" y="0" textLength="18.85" lengthAdjust="spacingAndGlyphs" stroke-width="0">pef</text>
<text font-size="13" transform="translate(55.50 187.80) rotate(-90)" x="-7.27" y="0" textLength="14.83" lengthAdjust="spacingAndGlyphs" stroke-width="0">en</text>
<text font-size="13" transform="translate(67.80 187.80) rotate(-90)" x="-31.15" y="0" textLength="62.01" lengthAdjust="spacingAndGlyphs" stroke-width="0">spec2plot</text>
<text font-size="13" transform="translate(80.10 187.80) rotate(-90)" x="-15.82" y="0" textLength="32.02" lengthAdjust="spacingAndGlyphs" stroke-width="0">omni</text>
<text font-size="13" transform="translate(92.40 187.80) rotate(-90)" x="-16.64" y="0" textLength="33.28" lengthAdjust="spacingAndGlyphs" stroke-width="0">[keV]</text>
<text font-size="13" transform="translate(30.90 271.80) rotate(-90)" x="-9.24" y="0" textLength="18.47" lengthAdjust="spacingAndGlyphs" stroke-width="0">elb</text>
<text font-size="13" transform="translate(43.20 271.80) rotate(-90)" x="-9.87" y="0" textLength="18.85" lengthAdjust="spacingAndGlyphs" stroke-width="0">pef</text>
<text font-size="13" transform="translate(55.50 271.80) rotate(-90)" x="-7.27" y="0" textLength="14.83" lengthAdjust="spacingAndGlyphs" stroke-width="0">en</text>
<text font-size="13" transform="translate(67.80 271.80) rotate(-90)" x="-31.15" y="0" textLength="62.01" lengthAdjust="spacingAndGlyphs" stroke-width="0">spec2plot</text>
<text font-size="13" transform="translate(80.10 271.80) rotate(-90)" x="-38.68" y="0" textLength="77.04" lengthAdjust="spacingAndGlyphs" stroke-width="0">precovrperp</text>
<text font-size="13" transform="translate(92.40 271.80) rotate(-90)" x="-14.59" y="0" textLength="28.82" lengthAdjust="spacingAndGlyphs" stroke-width="0">gterr</text>
<text font-size="13" transform="translate(30.90 355.80) rotate(-90)" x="-9.24" y="0" textLength="18.47" lengthAdjust="spacingAndGlyphs" stroke-width="0">elb</text>
<text font-size="13" transform="translate(43.20 355.80) rotate(-90)" x="-7.91" y="0" textLength="14.89" lengthAdjust="spacingAndGlyphs" stroke-width="0">pif</text>
<text font-size="13" transform="translate(55.50 355.80) rotate(-90)" x="-7.27" y="0" textLength="14.83" lengthAdjust="spacingAndGlyphs" stroke-width="0">en</text>
<text font-size="13" transform="translate(67.80 355.80) rotate(-90)" x="-31.15" y="0" textLength="62.01" lengthAdjust="spacingAndGlyphs" stroke-width="0">spec2plot</text>
<text font-size="13" transform="translate(80.10 355.80) rotate(-90)" x="-15.82" y="0" textLength="32.02" lengthAdjust="spacingAndGlyphs" stroke-width="0">omni</text>
<text font-size="13" transform="translate(92.40 355.80) rotate(-90)" x="-16.64" y="0" textLength="33.28" lengthAdjust="spacingAndGlyphs" stroke-width="0">[keV]</text>
<text font-size="13" transform="translate(43.20 440.30) rotate(-90)" x="-9.24" y="0" textLength="18.47" lengthAdjust="spacingAndGlyphs" stroke-width="0">elb</text>
<text font-size="13" transform="translate(55.50 440.30) rotate(-90)" x="-7.91" y="0" textLength="14.89" lengthAdjust="spacingAndGlyphs" stroke-width="0">pif</text>
<text font-size="13" transform="translate(67.80 440.30) rotate(-90)" x="-7.27" y="0" textLength="14.83" lengthAdjust="spacingAndGlyphs" stroke-width="0">en</text>
<text font-size="13" transform="translate(80.10 440.30) rotate(-90)" x="-31.15" y="0" textLength="62.01" lengthAdjust="spacingAndGlyphs" stroke-width="0">spec2plot</text>
<text font-size="13" transform="translate(92.40 440.30) rotate(-90)" x="-14.28" y="0" textLength="28.01" lengthAdjust="spacingAndGlyphs" stroke-width="0">prec</text>
<text font-size="13" transform="translate(30.90 524.80) rotate(-90)" x="-9.24" y="0" textLength="18.47" lengthAdjust="spacingAndGlyphs" stroke-width="0">elb</text>
<text font-size="13" transform="translate(43.20 524.80) rotate(-90)" x="-7.91" y="0" textLength="14.89" lengthAdjust="spacingAndGlyphs" stroke-width="0">pif</text>
<text font-size="13" transform="translate(55.50 524.80) rotate(-90)" x="-7.27" y="0" textLength="14.83" lengthAdjust="spacingAndGlyphs" stroke-width="0">en</text>
<text font-size="13" transform="translate(67.80 524.80) rotate(-90)" x="-31.15" y="0" textLength="62.01" lengthAdjust="spacingAndGlyphs" stroke-width="0">spec2plot</text>
<text font-size="13" transform="translate(80.10 524.80) rotate(-90)" x="-38.68" y="0" textLength="77.04" lengthAdjust="spacingAndGlyphs" stroke-width="0">precovrperp</text>
<text font-size="13" transform="translate(92.40 524.80) rotate(-90)" x="-14.59" y="0" textLength="28.82" lengthAdjust="spacingAndGlyphs" stroke-width="0">gterr</text>
<text font-size="13" transform="translate(39.90 608.80) rotate(-90)" x="-9.24" y="0" textLength="18.47" lengthAdjust="spacingAndGlyphs" stroke-width="0">elb</text>
<text font-size="13" transform="translate(51.95 608.80) rotate(-90)" x="-7.91" y="0" textLength="14.89" lengthAdjust="spacingAndGlyphs" stroke-width="0">pif</text>
<text font-size="13" transform="translate(64.00 608.80) rotate(-90)" x="-7.58" y="0" textLength="14.33" lengthAdjust="spacingAndGlyphs" stroke-width="0">pa</text>
<text font-size="13" transform="translate(76.05 608.80) rotate(-90)" x="-31.15" y="0" textLength="62.01" lengthAdjust="spacingAndGlyphs" stroke-width="0">spec2plot</text>
<text font-size="13" transform="translate(88.10 608.80) rotate(-90)" x="-19.57" y="0" textLength="39.09" lengthAdjust="spacingAndGlyphs" stroke-width="0">ch0LC</text>
<text font-size="13" transform="translate(39.90 692.80) rotate(-90)" x="-9.24" y="0" textLength="18.47" lengthAdjust="spacingAndGlyphs" stroke-width="0">elb</text>
<text font-size="13" transform="translate(51.95 692.80) rotate(-90)" x="-7.91" y="0" textLength="14.89" lengthAdjust="spacingAndGlyphs" stroke-width="0">pif</text>
<text font-size="13" transform="translate(64.00 692.80) rotate(-90)" x="-7.58" y="0" textLength="14.33" lengthAdjust="spacingAndGlyphs" stroke-width="0">pa</text>
<text font-size="13" transform="translate(76.05 692.80) rotate(-90)" x="-31.15" y="0" textLength="62.01" lengthAdjust="spacingAndGlyphs" stroke-width="0">spec2plot</text>
<text font-size="13" transform="translate(88.10 692.80) rotate(-90)" x="-18.80" y="0" textLength="37.55" lengthAdjust="spacingAndGlyphs" stroke-width="0">ch1LC</text>
<text font-size="13" transform="translate(39.90 777.30) rotate(-90)" x="-9.24" y="0" textLength="18.47" lengthAdjust="spacingAndGlyphs" stroke-width="0">elb</text>
<text font-size="13" transform="translate(51.95 777.30) rotate(-90)" x="-7.91" y="0" textLength="14.89" lengthAdjust="spacingAndGlyphs" stroke-width="0">pif</text>
<text font-size="13" transform="translate(64.00 777.30) rotate(-90)" x="-7.58" y="0" textLength="14.33" lengthAdjust="spacingAndGlyphs" stroke-width="0">pa</text>
<text font-size="13" transform="translate(76.05 777.30) rotate(-90)" x="-31.15" y="0" textLength="62.01" lengthAdjust="spacingAndGlyphs" stroke-width="0">spec2plot</text>
<text font-size="13" transform="translate(88.10 777.30) rotate(-90)" x="-19.57" y="0" textLength="39.09" lengthAdjust="spacingAndGlyphs" stroke-width="0">ch2LC</text>
<text font-size="13" transform="translate(50.00 861.00) rotate(-90)" x="-15.36" y="0" textLength="30.07" lengthAdjust="spacingAndGlyphs" stroke-width="0">IGRF</text>
<text font-size="13" transform="translate(63.30 861.70) rotate(-90)" x="-12.86" y="0" textLength="25.73" lengthAdjust="spacingAndGlyphs" stroke-width="0">[nT]</text>
<text font-size="13" x="700.93" y="88.80" textLength="58.76" lengthAdjust="spacingAndGlyphs">proxy_AE</text>
<text font-size="14.3" x="699.73" y="827.90" textLength="7.35" lengthAdjust="spacingAndGlyphs">T</text>
<text font-size="14.3" x="700.86" y="855.90" textLength="7.63" lengthAdjust="spacingAndGlyphs" fill="#00FF00">E</text>
<text font-size="14.3" x="700.74" y="860.20" textLength="9.31" lengthAdjust="spacingAndGlyphs" fill="#0000FF">N</text>
<text font-size="14.3" x="700.80" y="896.00" textLength="8.78" lengthAdjust="spacingAndGlyphs" fill="#FF0000">D</text>
<text font-size="7.4" transform="translate(694.40 857.00) rotate(-90)" x="-46.50" y="0" textLength="92.80" lengthAdjust="spacingAndGlyphs" font-weight="bold" stroke-width="0">Mon Nov 21 17:24:52 2022</text>
<text font-size="13" x="8.03" y="921.70" textLength="87.22" lengthAdjust="spacingAndGlyphs">2021 Aug 14</text>
<text font-size="13" x="8.08" y="933.37" textLength="81.11" lengthAdjust="spacingAndGlyphs">GLON (east)</text>
<text font-size="13" x="7.58" y="945.04" textLength="94.84" lengthAdjust="spacingAndGlyphs">MLAT-igrf(dip)</text>
<text font-size="13" x="7.54" y="956.71" textLength="88.22" lengthAdjust="spacingAndGlyphs">MLT-igrf(dip)</text>
<text font-size="13" x="7.41" y="968.38" textLength="72.65" lengthAdjust="spacingAndGlyphs">L-igrf(dip)</text>
<text font-size="13" x="110.73" y="921.70" textLength="33.86" lengthAdjust="spacingAndGlyphs">2200</text>
<text font-size="13" x="109.88" y="933.37" textLength="36.71" lengthAdjust="spacingAndGlyphs">101.9</text>
<text font-size="13" x="83.73" y="945.04" textLength="90.34" lengthAdjust="spacingAndGlyphs">-82.8(-83.9)</text>
<text font-size="13" x="94.05" y="956.71" textLength="68.99" lengthAdjust="spacingAndGlyphs">18.8(17.4)</text>
<text font-size="13" x="92.12" y="968.38" textLength="70.95" lengthAdjust="spacingAndGlyphs">24.0(95.6)</text>
<text font-size="13" x="297.35" y="921.70" textLength="33.34" lengthAdjust="spacingAndGlyphs">2230</text>
<text font-size="13" x="299.12" y="933.37" textLength="30.16" lengthAdjust="spacingAndGlyphs">27.7</text>
<text font-size="13" x="279.01" y="945.04" textLength="71.36" lengthAdjust="spacingAndGlyphs">16.3(24.8)</text>
<text font-size="13" x="287.28" y="956.71" textLength="54.29" lengthAdjust="spacingAndGlyphs">0.5(0.7)</text>
<text font-size="13" x="288.32" y="968.38" textLength="53.23" lengthAdjust="spacingAndGlyphs">1.2(1.3)</text>
<text font-size="13" x="484.24" y="921.70" textLength="33.44" lengthAdjust="spacingAndGlyphs">2300</text>
<text font-size="13" x="482.25" y="933.37" textLength="37.33" lengthAdjust="spacingAndGlyphs">204.0</text>
<text font-size="13" x="465.91" y="945.04" textLength="70.75" lengthAdjust="spacingAndGlyphs">38.3(37.3)</text>
<text font-size="13" x="466.02" y="956.71" textLength="70.64" lengthAdjust="spacingAndGlyphs">12.2(12.2)</text>
<text font-size="13" x="474.82" y="968.38" textLength="53.23" lengthAdjust="spacingAndGlyphs">1.6(1.7)</text>
<text font-size="13" x="670.24" y="921.70" textLength="33.55" lengthAdjust="spacingAndGlyphs">2330</text>
<text font-size="13" x="668.66" y="933.37" textLength="37.29" lengthAdjust="spacingAndGlyphs">179.3</text>
<text font-size="13" x="646.44" y="945.04" textLength="82.00" lengthAdjust="spacingAndGlyphs">76.3(-77.7)</text>
<text font-size="13" x="652.33" y="956.71" textLength="70.23" lengthAdjust="spacingAndGlyphs">16.7(14.6)</text>
<text font-size="13" x="651.31" y="968.38" textLength="71.26" lengthAdjust="spacingAndGlyphs">23.1(23.8)</text>
<text font-size="10.3" x="589.01" y="988.30" textLength="128.33" lengthAdjust="spacingAndGlyphs" stroke-width="0">nflux: #/(cm^2 s sr MeV)</text>
<text font-size="10.3" x="589.21" y="998.40" textLength="183.86" lengthAdjust="spacingAndGlyphs" stroke-width="0">Created: Tue Nov 22 01:24:52 2022</text>
</g>
</svg>
</body></html>
